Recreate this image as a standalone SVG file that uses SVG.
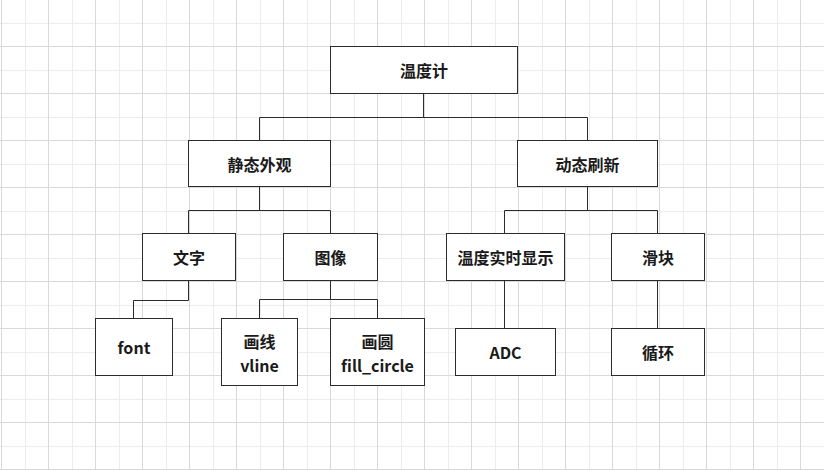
<svg xmlns="http://www.w3.org/2000/svg" width="824" height="470" viewBox="0 0 824 470">
<style>
.box{fill:#ffffff;stroke:#2b2b2b;stroke-width:1}
.lbl{font-family:"Microsoft YaHei","Noto Sans CJK SC","Noto Sans",sans-serif;font-size:16px;font-weight:700;fill:#1a1a1a;text-anchor:middle;dominant-baseline:central}
.conn{fill:none;stroke:#2b2b2b;stroke-width:1}
</style>
<defs>
<pattern id="grid" patternUnits="userSpaceOnUse" x="1" y="46" width="47" height="47">
<rect x="0" y="0" width="47" height="47" fill="#ffffff"/>
<rect x="24" y="0" width="1" height="47" fill="#ececec"/>
<rect x="0" y="24" width="47" height="1" fill="#ececec"/>
<rect x="0" y="0" width="1" height="47" fill="#d9d9d9"/>
<rect x="0" y="0" width="47" height="1" fill="#d9d9d9"/>
</pattern>
</defs>
<rect x="0" y="0" width="824" height="470" fill="url(#grid)"/>
<g id="connectors">
<path class="conn" d="M423.5 93.5V117.5M259.5 117.5H587.5M259.5 117.5V140.5M587.5 117.5V140.5"/>
<path class="conn" d="M259.5 186.5V210.5M188.5 210.5H330.5M188.5 210.5V233.5M330.5 210.5V233.5"/>
<path class="conn" d="M587.5 186.5V210.5M504.5 210.5H657.5M504.5 210.5V233.5M657.5 210.5V233.5"/>
<path class="conn" d="M188.5 280.5V300.5H133.5V318.5"/>
<path class="conn" d="M330.5 280.5V299.5M259.5 299.5H377.5M259.5 299.5V318.5M377.5 299.5V318.5"/>
<path class="conn" d="M504.5 280.5V328.5M657.5 280.5V328.5"/>
</g>
<g id="n-root"><rect class="box" x="330.5" y="46.5" width="187" height="47"/><text class="lbl" x="424" y="70">温度计</text></g>
<g id="n-static"><rect class="box" x="188.5" y="140.5" width="142" height="46"/><text class="lbl" x="259.5" y="163.5">静态外观</text></g>
<g id="n-dynamic"><rect class="box" x="517.5" y="140.5" width="140" height="46"/><text class="lbl" x="587.5" y="163.5">动态刷新</text></g>
<g id="n-text"><rect class="box" x="142.5" y="233.5" width="93" height="47"/><text class="lbl" x="189" y="257">文字</text></g>
<g id="n-image"><rect class="box" x="283.5" y="233.5" width="94" height="47"/><text class="lbl" x="330.5" y="257">图像</text></g>
<g id="n-realtime"><rect class="box" x="446.5" y="233.5" width="118" height="47"/><text class="lbl" x="505.5" y="257">温度实时显示</text></g>
<g id="n-slider"><rect class="box" x="611.5" y="233.5" width="93" height="47"/><text class="lbl" x="658" y="257">滑块</text></g>
<g id="n-font"><rect class="box" x="95.5" y="318.5" width="77" height="57"/><text class="lbl" x="134" y="347">font</text></g>
<g id="n-vline"><rect class="box" x="221.5" y="318.5" width="76" height="67"/><text class="lbl" x="259.5" y="341">画线</text><text class="lbl" x="259.5" y="365">vline</text></g>
<g id="n-circle"><rect class="box" x="330.5" y="318.5" width="94" height="67"/><text class="lbl" x="377.5" y="341">画圆</text><text class="lbl" x="377.5" y="365">fill_circle</text></g>
<g id="n-adc"><rect class="box" x="455.5" y="328.5" width="100" height="47"/><text class="lbl" x="505.5" y="352">ADC</text></g>
<g id="n-loop"><rect class="box" x="611.5" y="328.5" width="93" height="47"/><text class="lbl" x="658" y="352">循环</text></g>
</svg>
